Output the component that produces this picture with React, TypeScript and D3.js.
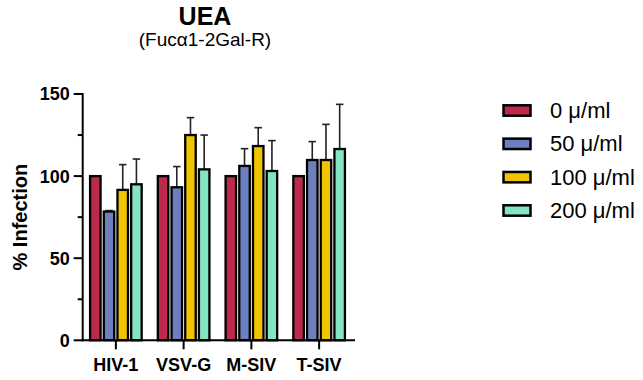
import React from "react";
import * as d3 from "d3";

const categories = ["HIV-1", "VSV-G", "M-SIV", "T-SIV"];
const seriesNames = ["0 μ/ml", "50 μ/ml", "100 μ/ml", "200 μ/ml"];
const seriesColors = ["#BE2A4C", "#6E7FBE", "#F0C400", "#83E6C0"];
// mean values per series, aligned with categories
const s0 = [100, 100, 100, 100];
const s50 = [78.4, 93.2, 106.2, 109.8];
const s100 = [91.6, 125, 118.3, 109.8];
const s200 = [95.0, 104.1, 103.1, 116.5];
// upper error (SD) per series
const e0 = [0, 0, 0, 0];
const e50 = [0.6, 12.6, 10.5, 11.2];
const e100 = [15.4, 10.6, 11.2, 21.7];
const e200 = [15.4, 20.9, 18.5, 27.2];
const yTicks = [0, 50, 100, 150];
const yMinorTicks = [25, 75, 125];

const means = [s0, s50, s100, s200];
const errs = [e0, e50, e100, e200];

const FONT = "'Liberation Sans', Arial, Helvetica, sans-serif";

export default function App() {
  const W = 643;
  const H = 380;
  const y = d3.scaleLinear().domain([0, 150]).range([340.3, 94]);
  const x0 = d3.scaleBand<string>().domain(categories).range([82, 353]).padding(0);
  const groupW = 51.6;
  const x1 = d3
    .scaleBand<string>()
    .domain(seriesNames)
    .range([0, groupW])
    .paddingInner(0.234)
    .paddingOuter(0);
  const axisX = 82.7;
  const baseY = y(0);
  const capW = 7.5;

  return (
    <svg
      width={W}
      height={H}
      style={{ position: "absolute", left: 0, top: 0, background: "#fff" }}
      fontFamily={FONT}
    >
      {/* titles */}
      <text x={205} y={25} textAnchor="middle" fontSize={25} fontWeight="bold" fill="#000">
        UEA
      </text>
      <text x={205} y={46} textAnchor="middle" fontSize={19} fill="#000">
        (Fucα1-2Gal-R)
      </text>

      {/* bars */}
      {categories.map((c, ci) => {
        const gx = (x0(c) as number) + x0.bandwidth() / 2 - groupW / 2;
        return (
          <g key={c}>
            {seriesNames.map((s, si) => {
              const v = means[si][ci];
              const e = errs[si][ci];
              const bx = gx + (x1(s) as number);
              const bw = x1.bandwidth();
              const cx = bx + bw / 2;
              return (
                <g key={s}>
                  {e > 0 && (
                    <g stroke="#222" strokeWidth={1.6}>
                      <line x1={cx} x2={cx} y1={y(v)} y2={y(v + e)} />
                      <line x1={cx - capW / 2} x2={cx + capW / 2} y1={y(v + e)} y2={y(v + e)} />
                    </g>
                  )}
                  <rect
                    x={bx}
                    y={y(v)}
                    width={bw}
                    height={baseY - y(v)}
                    fill={seriesColors[si]}
                    stroke="#000"
                    strokeWidth={2.3}
                  />
                </g>
              );
            })}
          </g>
        );
      })}

      {/* y axis */}
      <g stroke="#000" strokeWidth={2}>
        <line x1={axisX} x2={axisX} y1={y(150) - 1} y2={baseY + 1} />
        {yTicks.map((t) => (
          <line key={t} x1={axisX - 9} x2={axisX} y1={y(t)} y2={y(t)} />
        ))}
        {yMinorTicks.map((t) => (
          <line key={t} x1={axisX - 5} x2={axisX} y1={y(t)} y2={y(t)} />
        ))}
      </g>
      {yTicks.map((t) => (
        <text
          key={t}
          x={axisX - 13}
          y={y(t)}
          dy="0.36em"
          textAnchor="end"
          fontSize={18}
          fontWeight="bold"
          fill="#000"
        >
          {t}
        </text>
      ))}
      <text
        transform={`translate(27, ${(y(0) + y(150)) / 2}) rotate(-90)`}
        textAnchor="middle"
        fontSize={20}
        fontWeight="bold"
        fill="#000"
      >
        % Infection
      </text>

      {/* x axis */}
      <g stroke="#000" strokeWidth={2}>
        <line x1={axisX - 1} x2={355} y1={baseY} y2={baseY} />
        {categories.map((c) => {
          const cx = (x0(c) as number) + x0.bandwidth() / 2;
          return <line key={c} x1={cx} x2={cx} y1={baseY} y2={baseY + 9} />;
        })}
      </g>
      {categories.map((c) => {
        const cx = (x0(c) as number) + x0.bandwidth() / 2;
        return (
          <text
            key={c}
            x={cx}
            y={371}
            textAnchor="middle"
            fontSize={18}
            fontWeight="bold"
            fill="#000"
          >
            {c}
          </text>
        );
      })}

      {/* legend */}
      {seriesNames.map((s, i) => {
        const cy = 110.5 + i * 33.33;
        return (
          <g key={s}>
            <rect
              x={503.5}
              y={cy - 5.2}
              width={27}
              height={10.4}
              fill={seriesColors[i]}
              stroke="#000"
              strokeWidth={2.5}
            />
            <text x={550} y={cy + 7.4} fontSize={22} fill="#000">
              {s}
            </text>
          </g>
        );
      })}
    </svg>
  );
}
